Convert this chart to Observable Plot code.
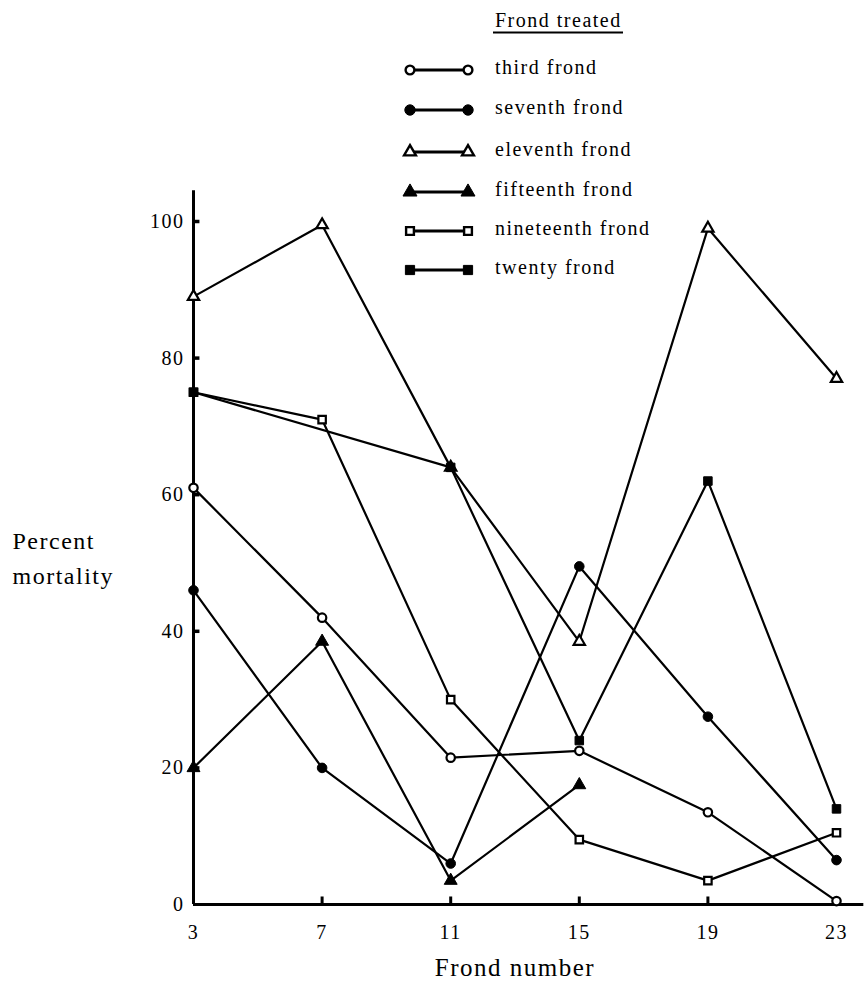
<!DOCTYPE html>
<html><head><meta charset="utf-8">
<script src="https://cdn.jsdelivr.net/npm/d3@7"></script>
<script src="https://cdn.jsdelivr.net/npm/@observablehq/plot@0.6"></script>
<style>
body{margin:0;background:#fff;}
#wrap{position:relative;width:866px;height:991px;font-family:"Liberation Serif","Times New Roman",serif;}
#wrap svg text{letter-spacing:1.5px;}
#legend{position:absolute;left:0;top:0;}
</style></head><body><div id="wrap"></div>
<script>
// ---- data ----
const frondNumbers = [3, 7, 11, 15, 19, 23];
const seriesNames = ["third frond", "seventh frond", "eleventh frond", "fifteenth frond", "nineteenth frond", "twenty frond"];
const third      = [61, 42, 21.5, 22.5, 13.5, 0.5];
const seventh    = [46, 20, 6, 49.5, 27.5, 6.5];
const eleventh   = [89, 99.5, 64, 38.5, 99, 77];
const fifteenth  = [20, 38.5, 3.5, 17.5, null, null];
const nineteenth = [75, 71, 30, 9.5, 3.5, 10.5];
const twenty     = [75, null, 64, 24, 62, 14];
const yTicks = [0, 20, 40, 60, 80, 100];
const xTicks = [3, 7, 11, 15, 19, 23];
const symbols = ["circle", "circle", "triangle", "triangle", "square", "square"];
const filled = [false, true, false, true, false, true];
const legendTitle = "Frond treated";
const xTitle = "Frond number";
const yTitle = "Percent\nmortality";

const allValues = [third, seventh, eleventh, fifteenth, nineteenth, twenty];
const tables = allValues.map((vals, i) =>
  frondNumbers.map((f, j) => ({frond: f, value: vals[j], series: seriesNames[i]}))
    .filter(d => d.value != null));

const marks = [];
// axis lines
marks.push(Plot.ruleX([3], {y1: 0, y2: 104.5, stroke: "black", strokeWidth: 3}));
marks.push(Plot.ruleY([0], {x1: 3, x2: 23.85, stroke: "black", strokeWidth: 3}));
// inward ticks
marks.push(Plot.ruleY(yTicks.slice(1), {x1: 3, x2: 3.2, stroke: "black", strokeWidth: 3.5}));
marks.push(Plot.ruleX(xTicks.slice(1), {y1: 0, y2: 1.1, stroke: "black", strokeWidth: 3}));
// tick labels
marks.push(Plot.axisY(yTicks, {tickSize: 0, tickPadding: 9, fontSize: 20, label: null}));
marks.push(Plot.axisX(xTicks, {tickSize: 0, tickPadding: 20, fontSize: 20, label: null}));
// series lines
tables.forEach(t => marks.push(Plot.line(t, {x: "frond", y: "value", stroke: "black", strokeWidth: 2.2})));
// markers
tables.forEach((t, i) => marks.push(Plot.dot(t, {
  x: "frond", y: "value", symbol: symbols[i],
  r: filled[i] ? 4.8 : 4.2,
  fill: filled[i] ? "black" : "white",
  stroke: "black", strokeWidth: filled[i] ? 1 : 2.2
})));
// axis titles
marks.push(Plot.text([yTitle], {text: d => d, frameAnchor: "left", dx: -181, dy: -8, textAnchor: "start", fontSize: 24, lineHeight: 1.45}));
marks.push(Plot.text([xTitle], {text: d => d, frameAnchor: "bottom", dy: 71, fontSize: 25}));

const chart = Plot.plot({
  width: 866, height: 991,
  marginLeft: 193, marginRight: 30, marginTop: 221, marginBottom: 87,
  x: {domain: [3, 23]},
  y: {domain: [0, 100]},
  style: {fontFamily: "'Liberation Serif', 'Times New Roman', serif", fontSize: "20px", background: "white", color: "black"},
  marks
});
const wrap = document.getElementById("wrap");
wrap.appendChild(chart);

// ---- legend overlay ----
const lg = d3.select(wrap).append("svg").attr("id", "legend")
  .attr("width", 866).attr("height", 300)
  .style("font-family", "'Liberation Serif', 'Times New Roman', serif");
lg.append("text").attr("x", 495).attr("y", 27).attr("font-size", 20).text(legendTitle);
lg.append("line").attr("x1", 493).attr("x2", 623).attr("y1", 32.5).attr("y2", 32.5)
  .attr("stroke", "black").attr("stroke-width", 2);
const rowY = [70, 110, 152, 192, 231, 270];
const symMap = {circle: d3.symbolCircle, triangle: d3.symbolTriangle, square: d3.symbolSquare};
seriesNames.forEach((name, i) => {
  const y = rowY[i];
  lg.append("line").attr("x1", 410).attr("x2", 468).attr("y1", y).attr("y2", y)
    .attr("stroke", "black").attr("stroke-width", 3);
  [410, 468].forEach(x => {
    const r = filled[i] ? 5.2 : 4.4;
    lg.append("path")
      .attr("d", d3.symbol().type(symMap[symbols[i]]).size(Math.PI * r * r)())
      .attr("transform", `translate(${x},${y})`)
      .attr("fill", filled[i] ? "black" : "white")
      .attr("stroke", "black").attr("stroke-width", filled[i] ? 1 : 2.4);
  });
  lg.append("text").attr("x", 495).attr("y", y).attr("dy", "0.22em").attr("font-size", 20).text(name);
});
</script>
</body></html>
